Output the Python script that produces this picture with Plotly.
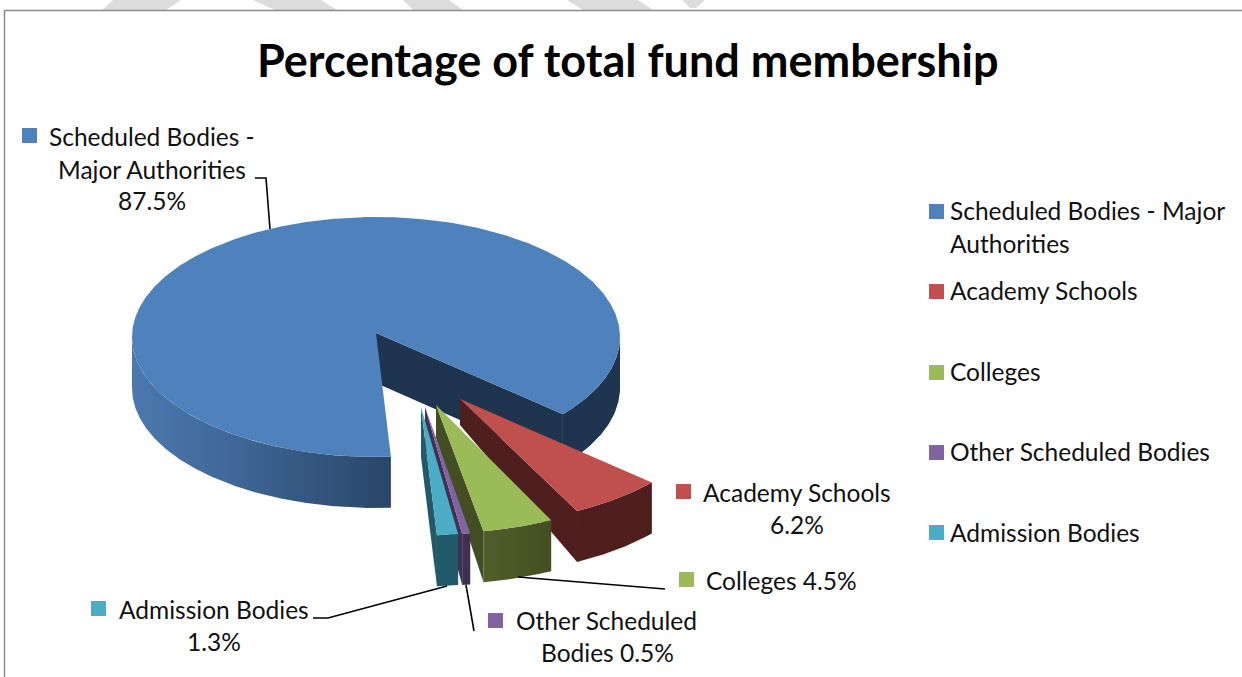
import numpy as np
import plotly.graph_objects as go

# ---- data ----
categories = ["Scheduled Bodies - Major Authorities", "Academy Schools", "Colleges",
              "Other Scheduled Bodies", "Admission Bodies"]
values = [87.5, 6.2, 4.5, 0.5, 1.3]
title_text = "Percentage of total fund membership"
legend_lines = [["Scheduled Bodies - Major", "Authorities"], ["Academy Schools"], ["Colleges"],
                ["Other Scheduled Bodies"], ["Admission Bodies"]]
label_lines = [["Scheduled Bodies -", "Major Authorities", "{v}%"], ["Academy Schools", "{v}%"],
               ["Colleges {v}%"], ["Other Scheduled", "Bodies {v}%"], ["Admission Bodies", "{v}%"]]

# ---- styles / layout ----
top_colors = ["#4f81bd", "#c0504d", "#9bbb59", "#8064a2", "#4bacc6"]
wall_colors = ["#1e344f", "#4f1f1f", "#434f23", "#403152", "#215a69"]
FONT = "Lato"
TXT = "#111111"
RX, RY, DEPTH = 244, 120, 51
START_DEG = -273.5          # blue starts here (clockwise, east = 0, screen down positive)
center = [(376, 337), (460, 399), (436, 405), (425, 407), (421, 407)]
blue_apex = (376, 333)
scale = [1, 1.05, 1.07, 1.07, 1.07]
apex_depth = [50, 26, 33, 40, 50]
perspective_trim = [1.5, 1.0, 0.5, 0, 0]   # foreshortening of each wedge's closing edge, degrees
legend_sw_y = [211.5, 291.5, 372.5, 452.5, 532.5]
legend_txt_y = [[210, 243], [290], [371], [451], [532]]
label_pos = [[(152, 136), (152, 169), (152, 200)], [(797, 492), (797, 524)], [(781, 580)],
             [(606, 620), (607, 652)], [(214, 609), (214, 641)]]
label_sw = [(29.5, 135.5), (683.5, 491.5), (686.5, 579.5), (495.5, 620.5), (98.5, 608.5)]
leaders = [[(270, 229), (266, 178), (255, 178)], [(518, 577), (653, 588), (665, 589)],
           [(466, 585), (474, 631)], [(447, 586), (328, 618), (313, 618)]]
watermark = [[(113, 0), (181, 0), (166, 10), (102, 10)], [(253, 0), (321, 0), (337, 10), (275, 10)],
             [(403, 0), (449, 0), (463, 10), (413, 10)], [(567, 0), (638, 0), (653, 10), (583, 10)],
             [(682, 0), (705, 0), (696, 8), (690, 8)]]

fig = go.Figure()


def arc(cx, cy, s, a0, a1, dy=0):
    t = np.radians(np.linspace(a0, a1, max(int(abs(a1 - a0) * 2), 2) + 1))
    return cx + RX * s * np.cos(t), cy + RY * s * np.sin(t) + dy


def poly(xs, ys, color, **kw):
    fig.add_trace(go.Scatter(x=list(xs), y=list(ys), mode="lines", fill="toself", fillcolor=color,
                             line=dict(width=0, color=color), hoverinfo="skip", showlegend=False, **kw))


def rim(cx, cy, s, a0, a1, color, **kw):
    x1, y1 = arc(cx, cy, s, a0, a1)
    x2, y2 = arc(cx, cy, s, a1, a0, DEPTH)
    poly(np.r_[x1, x2], np.r_[y1, y2], color, **kw)


cuts = np.cumsum([0] + [v * 3.6 for v in values]) + START_DEG
# blue
cx, cy = center[0]
a0, a1 = cuts[0], cuts[1] - perspective_trim[0]
rim(cx, cy, 1, 0, a1, wall_colors[0])
rim(cx, cy, 1, a0, -180, "#2f5480",
    fillgradient=dict(type="horizontal", start=132, stop=391,
                      colorscale=[[0, "#4a78af"], [0.35, "#41699a"], [1, "#294668"]]))
ex, ey = arc(cx, cy, 1, a1, a1)
poly([blue_apex[0], ex[0], ex[0], blue_apex[0]],
     [blue_apex[1], ey[0], ey[0] + DEPTH, blue_apex[1] + apex_depth[0]], wall_colors[0])
x, y = arc(cx, cy, 1, a0, a1)
poly(np.r_[blue_apex[0], x], np.r_[blue_apex[1], y], top_colors[0])

# exploded slices (drawn from back to front)
for i in range(1, len(values)):
    cx, cy = center[i]
    s = scale[i]
    a0, a1 = cuts[i], cuts[i + 1] - perspective_trim[i]
    ex, ey = arc(cx, cy, s, a1, a1)
    poly([cx, ex[0], ex[0], cx], [cy, ey[0], ey[0] + DEPTH, cy + apex_depth[i]], wall_colors[i])
    if i == 2:
        rim(cx, cy, s, a0, a1, wall_colors[i],
            fillgradient=dict(type="horizontal", start=483, stop=552,
                              colorscale=[[0, "#4f5e2a"], [1, "#434f23"]]))
    else:
        rim(cx, cy, s, a0, a1, wall_colors[i])
    x, y = arc(cx, cy, s, a0, a1)
    poly(np.r_[cx, x], np.r_[cy, y], top_colors[i])

# leader lines
for seg in leaders:
    fig.add_trace(go.Scatter(x=[p[0] for p in seg], y=[p[1] for p in seg], mode="lines",
                             line=dict(color="#000000", width=1.6), hoverinfo="skip", showlegend=False))

# swatches
fig.add_trace(go.Scatter(x=[936.5] * 5, y=legend_sw_y, mode="markers", hoverinfo="skip", showlegend=False,
                         marker=dict(symbol="square", size=15, color=top_colors, line=dict(width=0))))
fig.add_trace(go.Scatter(x=[p[0] for p in label_sw], y=[p[1] for p in label_sw], mode="markers",
                         hoverinfo="skip", showlegend=False,
                         marker=dict(symbol="square", size=15, color=top_colors, line=dict(width=0))))

ann = [dict(x=628, y=60, text=f"<b>{title_text}</b>", showarrow=False, xanchor="center", yanchor="middle",
            font=dict(family=FONT, size=45, color="#000000"))]
for lines, ys in zip(legend_lines, legend_txt_y):
    for t, yy in zip(lines, ys):
        ann.append(dict(x=948, y=yy, text=t, showarrow=False, xanchor="left", yanchor="middle",
                        font=dict(family=FONT, size=24.5, color=TXT)))
for v, lines, pos in zip(values, label_lines, label_pos):
    for t, (xx, yy) in zip(lines, pos):
        ann.append(dict(x=xx, y=yy, text=t.format(v=v), showarrow=False, xanchor="center", yanchor="middle",
                        font=dict(family=FONT, size=24.5, color=TXT)))

shapes = [dict(type="path", layer="below", line=dict(width=0), fillcolor="#dcdcdc",
               path="M" + " L".join(f"{a},{b}" for a, b in w) + " Z") for w in watermark]
shapes += [dict(type="line", x0=4, y0=10.5, x1=1242, y1=10.5, line=dict(color="#8c8c8c", width=1.5)),
           dict(type="line", x0=4.5, y0=10, x1=4.5, y1=677, line=dict(color="#8c8c8c", width=1.5))]

fig.update_layout(width=1242, height=677, margin=dict(l=0, r=0, t=0, b=0), autosize=False,
                  paper_bgcolor="white", plot_bgcolor="white", annotations=ann, shapes=shapes,
                  xaxis=dict(range=[0, 1242], visible=False, fixedrange=True),
                  yaxis=dict(range=[677, 0], visible=False, fixedrange=True))
fig.write_html("out.html", config=dict(displayModeBar=False),
               post_script="document.body.style.margin='0';document.documentElement.style.overflow='hidden';")
